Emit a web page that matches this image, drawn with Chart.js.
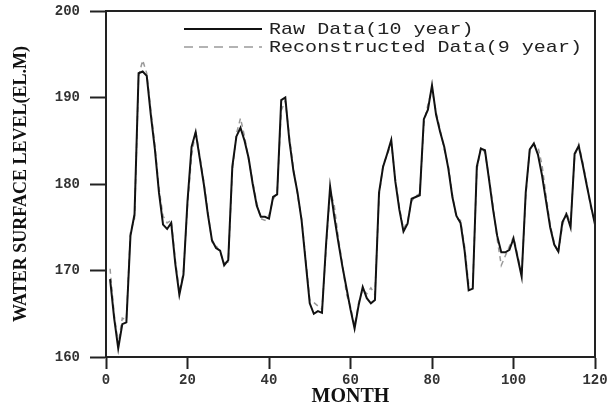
<!DOCTYPE html>
<html>
<head>
<meta charset="utf-8">
<script src="https://cdn.jsdelivr.net/npm/chart.js@4"></script>
<style>
  html, body { margin: 0; padding: 0; background: #fff; }
  #wrap { width: 610px; height: 412px; }
</style>
</head>
<body>
<div id="wrap"><canvas id="level-chart" width="610" height="412"></canvas></div>
<script>
// months 1..120
const months = Array.from({ length: 120 }, (_, i) => i + 1);

const rawLevel = [
  169, 164.5, 161, 163.8, 164, 174, 176.5, 192.8, 193, 192.5,
  188, 184, 179, 175.3, 174.8, 175.5, 170.8, 167.2, 169.5, 178,
  184.3, 186, 183, 180, 176.5, 173.5, 172.6, 172.3, 170.6, 171.2,
  182, 185.5, 186.5, 185, 183, 180, 177.5, 176.2, 176.2, 176,
  178.5, 178.8, 189.7, 190, 185, 181.5, 179, 175.8, 171, 166.2,
  165, 165.3, 165.1, 173, 179.7, 176.3, 173.3, 170.5, 168, 165.5,
  163.3, 166, 168.1, 166.8, 166.2, 166.6, 179, 182, 183.5, 185.1,
  180.3, 177, 174.5, 175.4, 178.3, 178.5, 178.7, 187.5, 188.6, 191.4,
  188, 186, 184.3, 181.8, 178.5, 176.3, 175.5, 172.3, 167.7, 167.9,
  182, 184.1, 183.9, 180.5, 177, 174, 172.1, 172.1, 172.4, 173.7,
  171.5, 169.3, 179, 184, 184.7, 183.4, 181, 178, 175, 173,
  172.2, 175.6, 176.5, 175, 183.5, 184.4, 182.2, 179.8, 177.5, 175.3
];

const reconLevel = [
  170.2, 165, 161.5, 164.5, 164.3, 174.5, 176, 192.5, 194.3, 192.8,
  188.5, 184.5, 179.5, 176.3, 175.5, 175.8, 171.3, 167.5, 169.8, 177.5,
  183.2, 186.2, 183.3, 180.3, 176.8, 173.3, 172.9, 172.1, 170.9, 171,
  181.5, 185.8, 187.6, 185.5, 182.8, 180.3, 177.8, 176, 175.8, 176.4,
  178.2, 179, 188.5, 189.6, 185.5, 181.8, 178.7, 176, 171.4, 166.6,
  166.3, 165.9, 165.5, 172.5, 179.2, 177.6, 173.8, 170.8, 167.3, 165.8,
  163.6, 166.3, 167.8, 167.3, 168, 167.2, 178.5, 182.3, 183.3, 184.8,
  180.6, 177.3, 174.8, 175.7, 178, 178.6, 178.9, 187, 189.2, 191,
  188.3, 186.3, 184, 182.1, 178.8, 176, 175.8, 172.8, 168.4, 168.2,
  181.6, 184.3, 183.6, 180.8, 177.4, 173.6, 170.6, 171.7, 172.8, 173.9,
  171.8, 169.6, 178.5, 184.2, 184.5, 184.3, 182.2, 178.6, 175.3, 173.2,
  172, 175.2, 176.8, 175.3, 183.2, 184.6, 182.5, 180, 177.2, 175.6
];

const xTicks = [0, 20, 40, 60, 80, 100, 120];
const yTicks = [160, 170, 180, 190, 200];

const seriesNames = ['Raw Data(10 year)', 'Reconstructed Data(9 year)'];

const toPoints = (vals) => months.map((m, i) => ({ x: m, y: vals[i] }));

// box around the plot + legend in the upper right
const framePlugin = {
  id: 'frame',
  afterDraw(chart) {
    const { ctx, chartArea: a } = chart;
    ctx.save();
    ctx.strokeStyle = '#222';
    ctx.lineWidth = 2;
    ctx.strokeRect(a.left, a.top, a.right - a.left, a.bottom - a.top);

    const rows = [
      { y: 29, ds: chart.data.datasets[0] },
      { y: 47, ds: chart.data.datasets[1] }
    ];
    rows.forEach(r => {
      ctx.beginPath();
      ctx.strokeStyle = r.ds.borderColor;
      ctx.lineWidth = r.ds.borderWidth;
      ctx.setLineDash(r.ds.borderDash ? [9, 6] : []);
      ctx.moveTo(184, r.y);
      ctx.lineTo(262, r.y);
      ctx.stroke();
      ctx.setLineDash([]);

      ctx.save();
      ctx.translate(269, r.y);
      ctx.scale(1.18, 1);
      ctx.fillStyle = '#222';
      ctx.font = '17px "Liberation Mono", monospace';
      ctx.textBaseline = 'middle';
      ctx.fillText(r.ds.label, 0, 0);
      ctx.restore();
    });
    ctx.restore();
  }
};

const ctx = document.getElementById('level-chart').getContext('2d');
new Chart(ctx, {
  type: 'line',
  data: {
    datasets: [
      {
        label: seriesNames[0],
        data: toPoints(rawLevel),
        borderColor: '#111',
        borderWidth: 2,
        pointRadius: 0,
        tension: 0,
        fill: false
      },
      {
        label: seriesNames[1],
        data: toPoints(reconLevel),
        borderColor: '#9a9a9a',
        borderWidth: 1.5,
        borderDash: [5, 4],
        pointRadius: 0,
        tension: 0,
        fill: false
      }
    ]
  },
  options: {
    responsive: false,
    animation: false,
    layout: { padding: { left: 0, top: 11, right: 15, bottom: 0 } },
    plugins: {
      legend: { display: false },
      tooltip: { enabled: false }
    },
    scales: {
      x: {
        type: 'linear',
        min: 0,
        max: 120,
        afterBuildTicks: (s) => { s.ticks = xTicks.map(v => ({ value: v })); },
        afterFit: (s) => { s.height = 55; s.paddingLeft = 0; s.paddingRight = 0; },
        grid: { drawOnChartArea: false, tickLength: 12, tickWidth: 2, tickColor: '#222' },
        border: { color: '#222', width: 2 },
        ticks: {
          padding: 3,
          color: '#333',
          maxRotation: 0,
          font: { family: '"Liberation Mono", monospace', size: 14, weight: 'bold' }
        },
        title: {
          display: true,
          text: 'MONTH',
          color: '#111',
          padding: { top: 0, bottom: 3 },
          font: { family: '"Liberation Serif", serif', size: 20, weight: 'bold' }
        }
      },
      y: {
        min: 160,
        max: 200,
        afterBuildTicks: (s) => { s.ticks = yTicks.map(v => ({ value: v })); },
        afterFit: (s) => { s.width = 106; s.paddingTop = 0; s.paddingBottom = 0; },
        grid: { drawOnChartArea: false, tickLength: 16, tickWidth: 2, tickColor: '#222' },
        border: { color: '#222', width: 2 },
        ticks: {
          padding: 10,
          color: '#333',
          font: { family: '"Liberation Mono", monospace', size: 14, weight: 'bold' }
        },
        title: {
          display: true,
          text: 'WATER SURFACE LEVEL(EL.M)',
          color: '#111',
          padding: { top: 11, bottom: 0 },
          font: { family: '"Liberation Serif", serif', size: 18, weight: 'bold' }
        }
      }
    }
  },
  plugins: [framePlugin]
});
</script>
</body>
</html>
